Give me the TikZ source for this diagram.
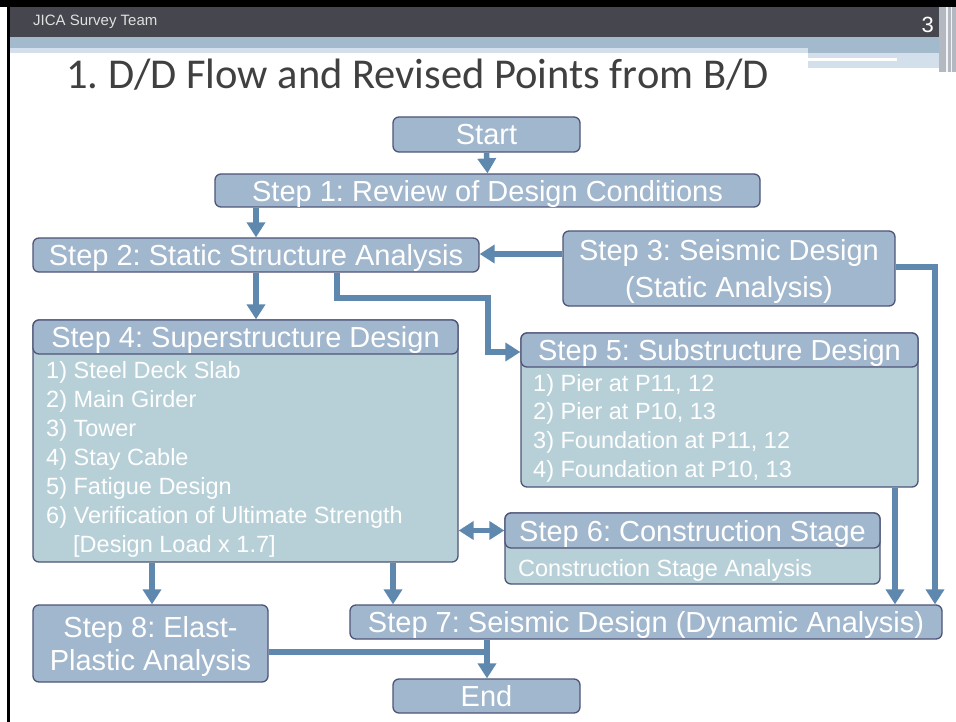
\documentclass[tikz,border=0pt]{standalone}
\usepackage{fontspec}
\setmainfont{Liberation Sans}
\newfontfamily\titlefont{Carlito}
\usetikzlibrary{arrows.meta}
\definecolor{hdr}{HTML}{A1B7CD}
\definecolor{bdy}{HTML}{B7D0D8}
\definecolor{edge}{HTML}{4F5577}
\definecolor{arrowc}{HTML}{5E88AE}
\definecolor{bar}{HTML}{46464F}
\definecolor{band}{HTML}{A3BACD}
\definecolor{bandlt}{HTML}{D3DFEA}
\definecolor{titlec}{HTML}{404040}
\definecolor{stripc}{HTML}{B4B8C0}
\frenchspacing
\begin{document}
\begin{tikzpicture}[x=1pt,y=-1pt,
  box/.style={draw=edge, line width=1.3pt, fill=hdr, rounded corners=6pt, text=white,
    font=\fontsize{29}{37}\selectfont, inner sep=0pt, align=center, text depth=0pt},
  bodybox/.style={draw=edge, line width=1.3pt, fill=bdy, rounded corners=6pt, inner sep=0pt},
  item/.style={anchor=base west, text=white, font=\fontsize{23.5}{28}\selectfont, inner sep=0pt},
  arr/.style={draw=arrowc, line width=5.5pt, -{Triangle[width=18pt,length=15pt]}},
  dblarr/.style={draw=arrowc, line width=5.5pt, {Triangle[width=18pt,length=15pt]}-{Triangle[width=18pt,length=15pt]}},
  ln/.style={draw=arrowc, line width=5.5pt}]

\useasboundingbox (0,0) rectangle (956,722);
\fill[white] (0,0) rectangle (956,722);

% slide header decoration
\fill[black] (0,0) rectangle (956,7);
\fill[black] (7,0) rectangle (10,722);
\fill[bar] (10,7) rectangle (939,37);
\fill[band] (10,37) rectangle (939,48);
\fill[bandlt] (10,48) rectangle (808,53);
\fill[band] (808,48) rectangle (939,53);
\fill[bandlt] (808,53) rectangle (939,72);
\fill[white] (808,58) rectangle (897,61);
\fill[white] (782,68) rectangle (949,72);
\fill[stripc] (939,7) rectangle (956,72);
\fill[white!85!stripc] (946,7) rectangle (948,72);
\fill[white!85!stripc] (951,7) rectangle (952,72);

\node[anchor=base west, inner sep=0pt, text=white!88!black, font=\fontsize{15}{18}\selectfont] (team) at (33,26) {JICA Survey Team};
\node[anchor=base east, inner sep=0pt, text=white, font=\fontsize{22}{26}\selectfont] (pagenum) at (934,33) {3};
\node[anchor=base west, inner sep=0pt, text=titlec, font=\titlefont\fontsize{42.5}{46}\selectfont] (title) at (66,89) {1. D/D Flow and Revised Points from B/D};

% boxes
\node[box, minimum width=187pt, minimum height=35pt] (start) at (486.5,134.5) {Start};
\node[box, minimum width=545pt, minimum height=33pt] (s1) at (487.5,190.5) {Step 1: Review of Design Conditions};
\node[box, minimum width=446pt, minimum height=34pt] (s2) at (256,255) {Step 2: Static Structure Analysis};
\node[box, minimum width=332pt, minimum height=75pt] (s3) at (729,268.5) {Step 3: Seismic Design\\(Static Analysis)};

% Step 4
\node[bodybox, minimum width=425pt, minimum height=242pt] (s4b) at (245.5,441) {};
\node[box, minimum width=425pt, minimum height=34pt] (s4) at (245.5,337) {Step 4: Superstructure Design};
\node[item] (s4i1) at (46,378) {1) Steel Deck Slab};
\node[item] (s4i2) at (46,407) {2) Main Girder};
\node[item] (s4i3) at (46,436) {3) Tower};
\node[item] (s4i4) at (46,465) {4) Stay Cable};
\node[item] (s4i5) at (46,494) {5) Fatigue Design};
\node[item] (s4i6) at (46,523) {6) Verification of Ultimate Strength};
\node[item] (s4i7) at (73,552) {[Design Load x 1.7]};

% Step 5
\node[bodybox, minimum width=397pt, minimum height=154pt] (s5b) at (719.5,410) {};
\node[box, minimum width=397pt, minimum height=34pt] (s5) at (719.5,350) {Step 5: Substructure Design};
\node[item] (s5i1) at (533,391) {1) Pier at P11, 12};
\node[item] (s5i2) at (533,419) {2) Pier at P10, 13};
\node[item] (s5i3) at (533,448) {3) Foundation at P11, 12};
\node[item] (s5i4) at (533,477) {4) Foundation at P10, 13};

% Step 6
\node[bodybox, minimum width=375pt, minimum height=71pt] (s6b) at (692.5,548.5) {};
\node[box, minimum width=375pt, minimum height=35pt] (s6) at (692.5,530.5) {Step 6: Construction Stage};
\node[item] (s6i1) at (518,576) {Construction Stage Analysis};

% Step 7, 8, End
\node[box, minimum width=592pt, minimum height=34pt] (s7) at (646,622) {Step 7: Seismic Design (Dynamic Analysis)};
\node[box, minimum width=235pt, minimum height=77pt, font=\fontsize{29}{33}\selectfont] (s8) at (150.5,643.5) {Step 8: Elast-\\Plastic Analysis};
\node[box, minimum width=187pt, minimum height=34pt] (end) at (486.5,696) {End};

% connectors
\coordinate (j1) at (337,298);
\coordinate (j2) at (488,298);
\coordinate (j3) at (935,267);
\coordinate (j4) at (487,652);

\draw[arr] (start.south) -- (s1.north);
\draw[arr] (s1.south -| s2.north) -- (s2.north);
\draw[arr] (s2.south) -- (s2.south |- s4.north);
\draw[arr] (s3.west |- 0,254) -- (s2.east |- 0,254);
\draw[arr] (s2.south -| j1) -- (j1) -- (j2) -- (j2 |- 0,352) -- (s5.west |- 0,352);
\draw[arr] (s3.east |- j3) -- (j3) -- (j3 |- s7.north);
\draw[arr] (s5b.south -| 895,0) -- (s7.north -| 895,0);
\draw[dblarr] (s4b.east |- s6) -- (s6.west);
\draw[arr] (s4b.south -| 152,0) -- (s8.north -| 152,0);
\draw[arr] (s4b.south -| 393,0) -- (s7.north -| 393,0);
\draw[ln] (s8.east |- j4) -- ([xshift=2.75pt]j4);
\draw[arr] (s7.south -| j4) -- (end.north -| j4);
\end{tikzpicture}
\end{document}
